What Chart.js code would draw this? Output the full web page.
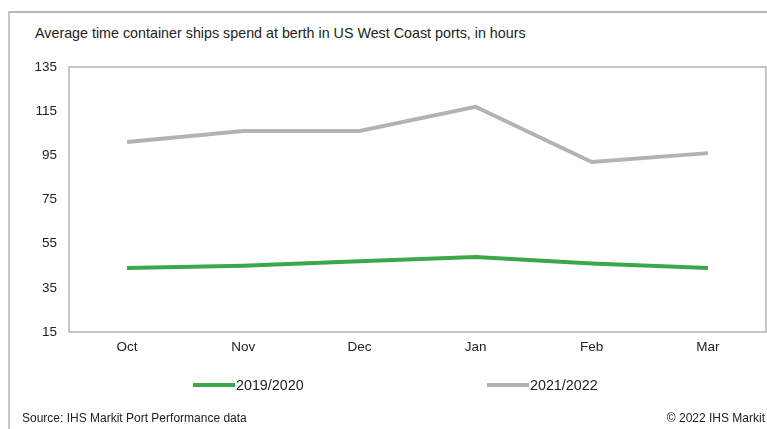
<!DOCTYPE html>
<html>
<head>
<meta charset="utf-8">
<script src="https://cdn.jsdelivr.net/npm/chart.js@4/dist/chart.umd.min.js"></script>
<style>
  html, body { margin:0; padding:0; background:#fff; }
  #wrap { position:relative; width:767px; height:429px; overflow:hidden; font-family:"Liberation Sans", Arial, sans-serif; color:#222; }
  #frame { position:absolute; left:8px; top:11px; width:800px; height:500px; border-left:2px solid #c8c8c8; border-top:2px solid #b8b8b8; }
  #title { position:absolute; left:35px; top:25px; font-size:14.3px; white-space:nowrap; }
  #c { position:absolute; left:0; top:0; }
  .leg { position:absolute; top:377px; font-size:14.3px; display:flex; align-items:center; white-space:nowrap; }
  .leg span.sw { display:inline-block; width:42px; height:4px; margin-right:1px; }
  #src { position:absolute; left:22px; top:411px; font-size:12px; }
  #copy { position:absolute; right:2px; top:411px; font-size:12px; }
</style>
</head>
<body>
<div id="wrap">
  <div id="frame"></div>
  <div id="title">Average time container ships spend at berth in US West Coast ports, in hours</div>
  <canvas id="c" width="767" height="429"></canvas>
  <div class="leg" id="leg1" style="left:193px"><span class="sw" style="background:#3aa84a"></span>2019/2020</div>
  <div class="leg" id="leg2" style="left:487px"><span class="sw" style="background:#b3b3b3"></span>2021/2022</div>
  <div id="src">Source: IHS Markit Port Performance data</div>
  <div id="copy">© 2022 IHS Markit</div>
</div>
<script>
const categories = ["Oct", "Nov", "Dec", "Jan", "Feb", "Mar"];
const series2019 = [44, 45, 47, 49, 46, 44];
const series2021 = [101, 106, 106, 117, 92, 96];
const yTicks = [15, 35, 55, 75, 95, 115, 135];

const boxPlugin = {
  id: 'box',
  beforeDatasetsDraw(chart) {
    const {ctx, chartArea:a} = chart;
    ctx.save();
    ctx.strokeStyle = '#b4b4b4';
    ctx.lineWidth = 1.5;
    ctx.strokeRect(a.left, a.top, a.right - a.left, a.bottom - a.top);
    ctx.restore();
  }
};

new Chart(document.getElementById('c'), {
  type: 'line',
  data: {
    labels: categories,
    datasets: [
      { label: '2019/2020', data: series2019, borderColor: '#3aa84a', borderWidth: 4, pointRadius: 0, tension: 0 },
      { label: '2021/2022', data: series2021, borderColor: '#b3b3b3', borderWidth: 4, pointRadius: 0, tension: 0 }
    ]
  },
  options: {
    responsive: false,
    animation: false,
    layout: { padding: { left: 0, top: 67, right: 1, bottom: 0 } },
    plugins: { legend: { display: false }, tooltip: { enabled: false }, title: { display: false } },
    scales: {
      x: {
        offset: true,
        grid: { display: false, drawTicks: false },
        border: { display: false },
        ticks: { color: '#222', font: { family: 'Liberation Sans', size: 13.5 }, padding: 7, maxRotation: 0 },
        afterFit: s => { s.height = 97; }
      },
      y: {
        min: 15, max: 135,
        afterBuildTicks: s => { s.ticks = yTicks.map(v => ({ value: v })); },
        grid: { display: false, drawTicks: false },
        border: { display: false },
        ticks: { color: '#222', font: { family: 'Liberation Sans', size: 13.5 }, padding: 12 },
        afterFit: s => { s.width = 69; }
      }
    }
  },
  plugins: [boxPlugin]
});
</script>
</body>
</html>
